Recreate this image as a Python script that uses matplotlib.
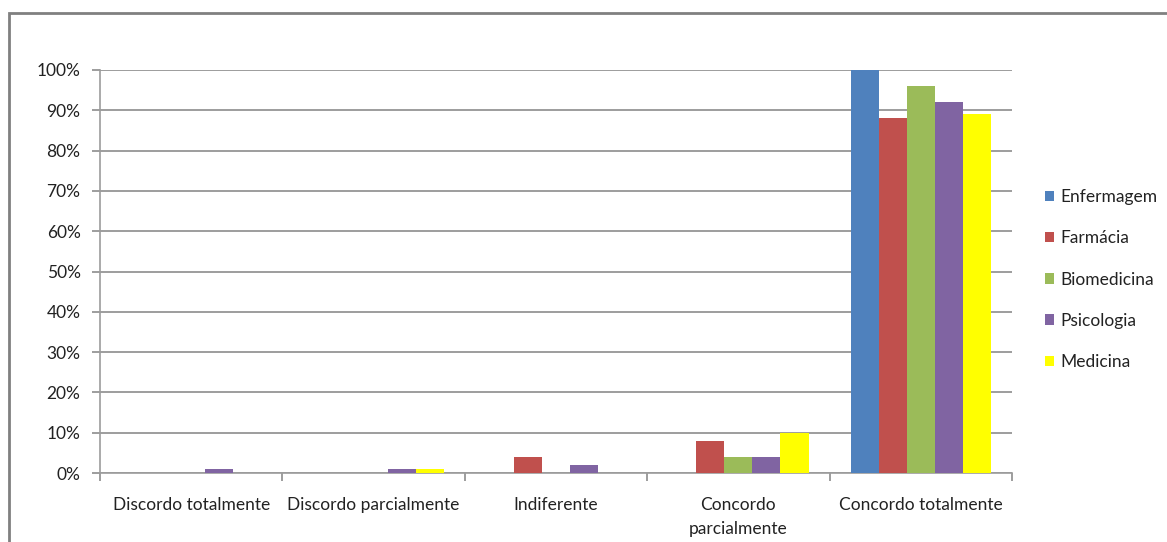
import matplotlib.pyplot as plt
import numpy as np
from matplotlib.patches import Rectangle

plt.rcParams["font.family"] = ["Lato", "DejaVu Sans"]

categories = [
    "Discordo totalmente",
    "Discordo parcialmente",
    "Indiferente",
    "Concordo\nparcialmente",
    "Concordo totalmente",
]
courses = ["Enfermagem", "Farmácia", "Biomedicina", "Psicologia", "Medicina"]
colors = ["#4f81bd", "#c0504d", "#9bbb59", "#8064a2", "#ffff00"]

# percent of answers per course, one list per answer category order
enfermagem = [0, 0, 0, 0, 100]
farmacia = [0, 0, 4, 8, 88]
biomedicina = [0, 0, 0, 4, 96]
psicologia = [1, 1, 2, 4, 92]
medicina = [0, 1, 0, 10, 89]
series = [enfermagem, farmacia, biomedicina, psicologia, medicina]

fig = plt.figure(figsize=(11.67, 5.42), dpi=100)
ax = fig.add_axes([100 / 1167, 1 - 473 / 542, 912 / 1167, 403 / 542])

x = np.arange(len(categories))
width = 1 / 6.5
for i, (name, vals, c) in enumerate(zip(courses, series, colors)):
    ax.bar(x + (i - 2) * width, vals, width, color=c, label=name, zorder=3)

ax.set_xlim(-0.5, len(categories) - 0.5)
ax.set_ylim(0, 100)
ax.set_yticks(np.arange(0, 101, 10))
ax.set_yticklabels([f"{v}%" for v in range(0, 101, 10)])
ax.yaxis.grid(True, color="#8c8c8c", linewidth=1.2, zorder=0)

# category labels sit between tick marks placed at group boundaries
ax.set_xticks(np.arange(-0.5, len(categories)), minor=False)
ax.set_xticklabels([])
ax.set_xticks(x, minor=True)
ax.set_xticklabels(categories, minor=True, fontsize=12.5, color="#222222",
                   linespacing=1.65, va="top")
ax.tick_params(axis="x", which="minor", length=0, pad=17)
ax.tick_params(axis="x", which="major", length=6, color="#8c8c8c", width=1.2)
ax.tick_params(axis="y", length=6, color="#8c8c8c", width=1.2, labelsize=12.5,
               labelcolor="#222222", pad=8)

for side in ["top", "right"]:
    ax.spines[side].set_visible(False)
for side in ["left", "bottom"]:
    ax.spines[side].set_color("#9c9c9c")
    ax.spines[side].set_linewidth(1.2)

leg = ax.legend(loc="center left", bbox_to_anchor=(1.036, 0.48), frameon=False,
                fontsize=12.5, handlelength=0.55, handleheight=0.55,
                handletextpad=0.35, labelspacing=1.45,
                borderpad=0, borderaxespad=0)
for t in leg.get_texts():
    t.set_color("#222222")

# outer chart frame
fig.patches.append(Rectangle((9 / 1167, -0.05), 1.1, 1 - 13 / 542 + 0.05,
                             transform=fig.transFigure, fill=False,
                             edgecolor="#808080", linewidth=2))

fig.savefig("out.png", dpi=100)
